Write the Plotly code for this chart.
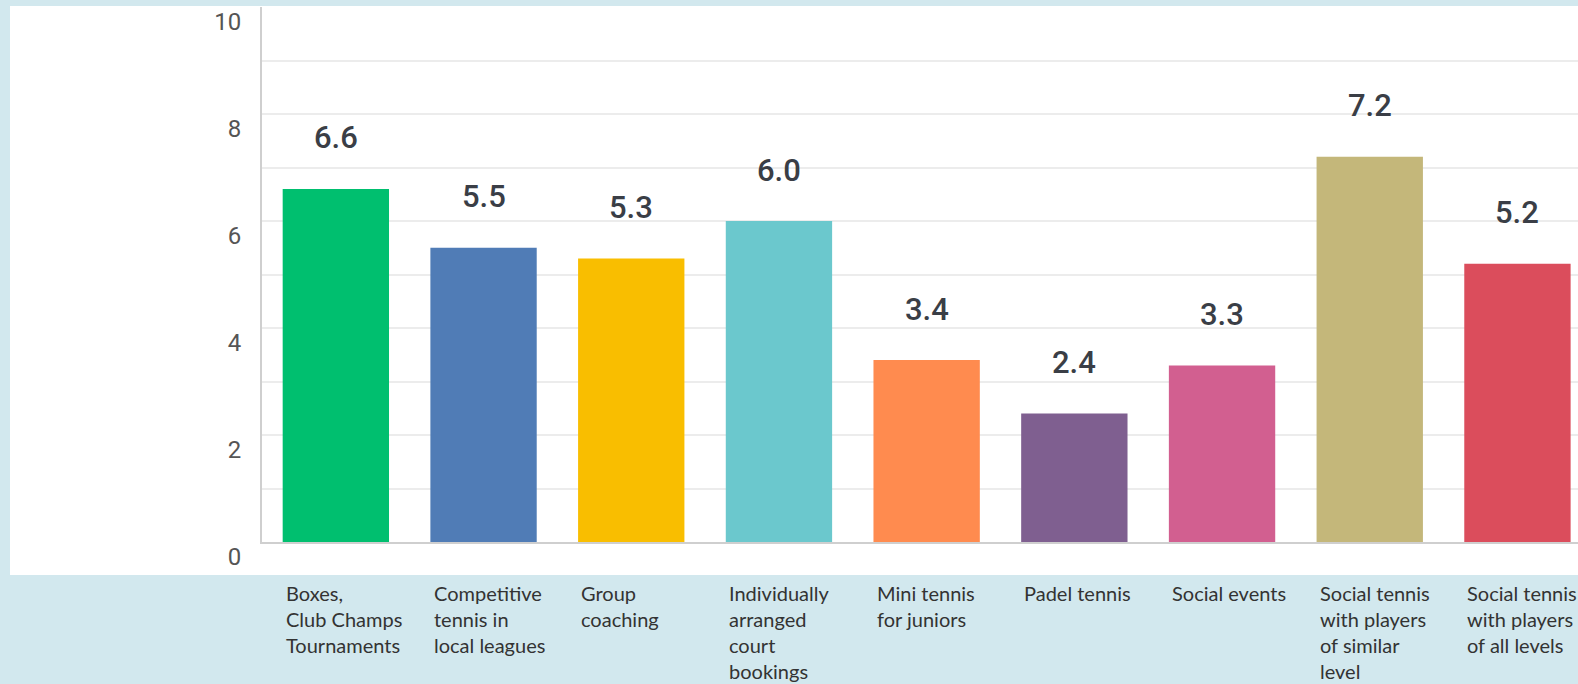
import plotly.graph_objects as go

categories = [
    "Boxes,<br>Club Champs<br>Tournaments",
    "Competitive<br>tennis in<br>local leagues",
    "Group<br>coaching",
    "Individually<br>arranged<br>court<br>bookings",
    "Mini tennis<br>for juniors",
    "Padel tennis",
    "Social events",
    "Social tennis<br>with players<br>of similar<br>level",
    "Social tennis<br>with players<br>of all levels",
]
values = [6.6, 5.5, 5.3, 6.0, 3.4, 2.4, 3.3, 7.2, 5.2]
colors = ["#00bf6f", "#507cb6", "#f9be00", "#6bc8cd", "#ff8b4f",
          "#7f5f90", "#d25f90", "#c4b77a", "#db4d5c"]
y_ticks = [0, 2, 4, 6, 8, 10]

W, H = 1578, 684
ML, MR, MT, MB = 262, 0, 7, 142
plot_w = W - ML - MR
plot_h = H - MT - MB

xs = list(range(len(categories)))

fig = go.Figure()
fig.add_trace(go.Bar(
    x=xs, y=values,
    marker=dict(color=colors, line=dict(width=0)),
    width=0.72,
    hoverinfo="skip",
))

annotations = []
for xi, v in zip(xs, values):
    annotations.append(dict(
        x=xi, y=v, xref="x", yref="y", text=f"{v:.1f}",
        showarrow=False, yshift=51, yanchor="middle", xanchor="center",
        font=dict(family="Roboto, DejaVu Sans, sans-serif", size=31,
                  color="#3a3e46", weight=500),
    ))
for xi, c in zip(xs, categories):
    annotations.append(dict(
        x=xi, y=0, xref="x", yref="y", text=c,
        showarrow=False, xanchor="left", yanchor="top", align="left",
        xshift=-52, yshift=-37,
        font=dict(family="Lato, Open Sans, sans-serif", size=20, color="#333333"),
    ))

# white panel
px0 = (10 - ML) / plot_w
py0 = (H - MB - 575) / plot_h
py1 = (H - MB - 6) / plot_h

fig.update_layout(
    width=W, height=H,
    margin=dict(l=ML, r=MR, t=MT, b=MB, pad=0),
    paper_bgcolor="#d2e8ee",
    plot_bgcolor="white",
    showlegend=False,
    bargap=0.28,
    annotations=annotations,
    shapes=[dict(type="rect", xref="paper", yref="paper",
                 x0=px0, x1=1.0, y0=py0, y1=py1,
                 fillcolor="white", line=dict(width=0), layer="below")],
    xaxis=dict(
        range=[-0.5, 8.41],
        showticklabels=False, showgrid=False, zeroline=False,
        showline=True, linecolor="#cfcfcf", linewidth=2,
        ticks="",
    ),
    yaxis=dict(
        range=[0, 10],
        tickvals=y_ticks,
        showgrid=True, gridcolor="#ececec", gridwidth=2,
        minor=dict(dtick=1, showgrid=True, gridcolor="#ececec", gridwidth=2),
        zeroline=False,
        showline=True, linecolor="#cfcfcf", linewidth=2,
        ticks="",
        ticklabelshift=15,
        ticklabelstandoff=14,
        tickfont=dict(family="Roboto, DejaVu Sans, sans-serif", size=24, color="#555555"),
    ),
)

fig.write_html(
    "out.html",
    config={"displayModeBar": False},
    post_script="document.body.style.margin='0';document.body.style.background='#d2e8ee';",
)
